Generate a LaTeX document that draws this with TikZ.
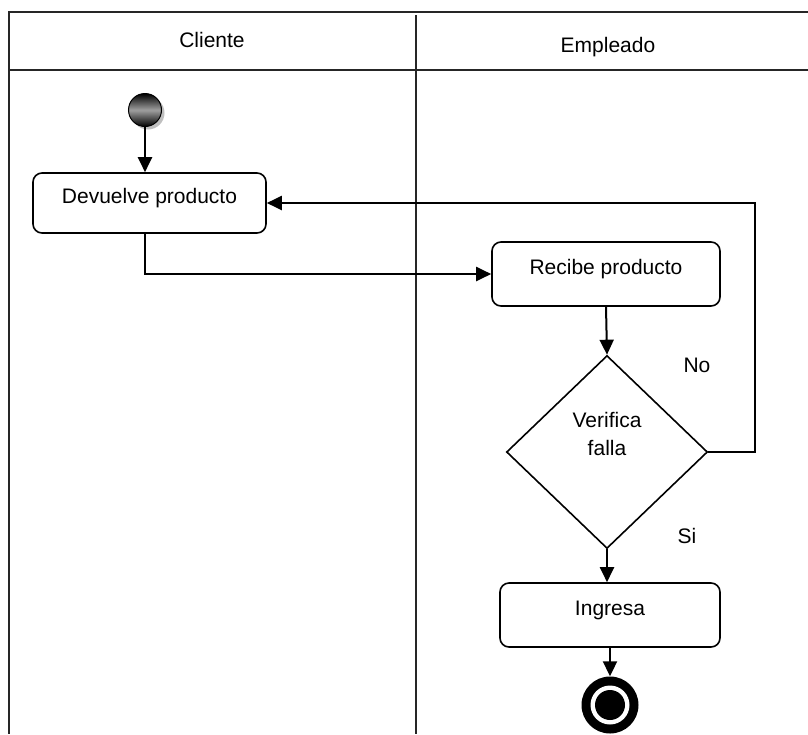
\documentclass[tikz,border=0pt]{standalone}
\usepackage{fontspec}
\setmainfont{Liberation Sans}
\usetikzlibrary{shapes.geometric,arrows.meta,calc}

\begin{document}
\begin{tikzpicture}[x=1pt, y=-1pt,
    lane/.style={line width=2pt, black!85},
    flow/.style={line width=2pt, -{Triangle[length=15pt,width=14pt]}},
    activity/.style={draw, line width=1.6pt, rounded corners=9pt, inner sep=0pt, text depth=14pt, font=\fontsize{21}{28}\selectfont},
    decision/.style={draw, diamond, line width=1.6pt, inner sep=0pt, minimum width=201pt, minimum height=193pt, text depth=36pt, align=center, font=\fontsize{21}{28}\selectfont},
    startdot/.style={circle, draw, line width=1pt, minimum size=33pt, inner sep=0pt, top color=black, bottom color=black, middle color=gray!75},
    stopdot/.style={circle, fill=black, minimum size=57pt, inner sep=0pt},
    lbl/.style={font=\fontsize{21}{28}\selectfont}]
            \useasboundingbox (0,0) rectangle (808,734);

            % --- Swimlanes ---
            \draw[lane] (808,12) -- (9,12) -- (9,734);
            \draw[lane] (9,70) -- (808,70);
            \draw[lane] (416,15) -- (416,734);
            \node[lbl] (cliente) at (212,40) {Cliente};
            \node[lbl] (empleado) at (608,47) {Empleado};

            % --- Cliente ---
            \fill[gray!50] (148,113) circle (16.5);
            \node[startdot] (start) at (145,110) {};
            \node[activity, minimum width=233pt, minimum height=60pt] (dev) at (149.5,203) {Devuelve producto\hspace{8pt}};

            % --- Empleado ---
            \node[activity, minimum width=228pt, minimum height=64pt] (rec) at (606,274) {Recibe producto};
            \node[decision] (dia) at (607,452) {Verifica\\falla};
            \node[activity, minimum width=220pt, minimum height=64pt] (ing) at (610,615) {Ingresa};
            \node[stopdot] (stop) at (610,705) {};
            \fill[white] (stop) circle (19.5);
            \fill[black] (stop) circle (15);

            % Guards
            \node[lbl] (no) at (697,365) {No};
            \node[lbl] (si) at (687,536) {Si};

            % --- Flows ---
            \coordinate (back) at (755,452);
            \draw[flow] (start) -- (start |- dev.north);
            \draw[flow] (start |- dev.south) |- (rec.west);
            \draw[flow] (rec.south) -- (dia.north);
            \draw[flow] (dia.east) -- (back) |- (dev.east);
            \draw[flow] (dia.south) -- (dia.south |- ing.north);
            \draw[flow] (ing.south) -- (stop.north);
\end{tikzpicture}
\end{document}
